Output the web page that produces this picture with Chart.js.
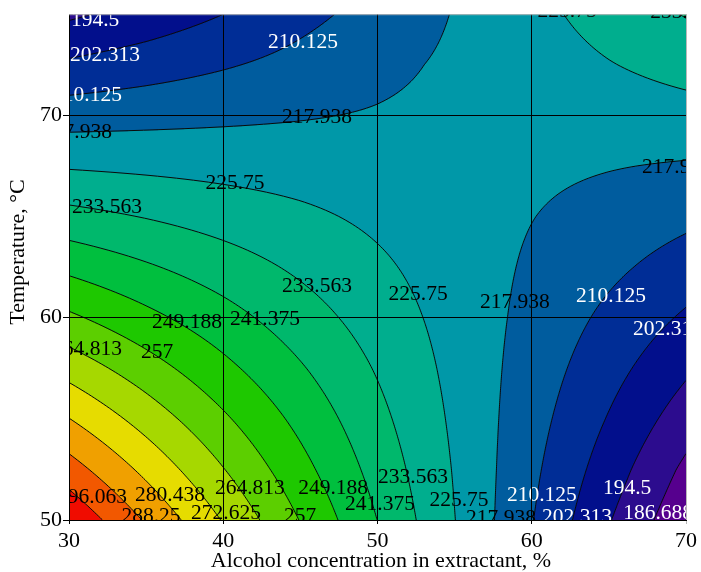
<!DOCTYPE html>
<html>
<head>
<meta charset="utf-8">
<script src="https://cdn.jsdelivr.net/npm/chart.js@4.4.1/dist/chart.umd.min.js"></script>
<style>
    html, body { margin: 0; padding: 0; background: #fff; }
</style>
</head>
<body>
<canvas id="contour-chart" width="701" height="572"></canvas>
<script>
// grid nodes
const alcohol = [30, 35, 40, 45, 50, 55, 60, 65, 70];
const temperature = [50, 52.5, 55, 57.5, 60, 62.5, 65, 67.5, 70, 72.5, 75];

// response at each node, one row per temperature
const response = [
    [302.7, 287.4, 272.1, 256.7, 241.3, 225.9, 210.5, 195.0, 180.8],
    [291.7, 278.4, 265.1, 251.8, 238.5, 225.2, 211.8, 198.4, 185.0],
    [280.6, 269.4, 258.2, 247.0, 235.7, 224.4, 213.1, 201.8, 190.4],
    [269.5, 260.4, 251.2, 242.1, 232.9, 223.6, 214.4, 205.1, 195.8],
    [258.4, 251.3, 244.3, 237.1, 230.0, 222.8, 215.7, 208.4, 201.2],
    [247.3, 242.3, 237.3, 232.2, 227.1, 222.0, 216.9, 211.8, 206.6],
    [236.1, 233.2, 230.2, 227.3, 224.2, 221.2, 218.1, 215.1, 211.9],
    [225.0, 224.1, 223.2, 222.3, 221.3, 220.4, 219.4, 218.3, 217.3],
    [214.4, 215.4, 216.4, 217.4, 218.5, 219.8, 220.7, 221.8, 223.0],
    [203.6, 206.4, 209.4, 212.5, 216.0, 219.2, 222.1, 225.4, 228.5],
    [193.2, 197.5, 202.3, 207.9, 212.9, 218.3, 223.6, 228.8, 234.0]
];

const levels = [186.688, 194.5, 202.313, 210.125, 217.938, 225.75, 233.563, 241.375,
    249.188, 257, 264.813, 272.625, 280.438, 288.25, 296.063];

const xTicks = [30, 40, 50, 60, 70];
const yTicks = [50, 60, 70];

// contour labels as they sit on the plot
const labelText = ['194.5', '202.313', '210.125', '217.938', '210.125', '217.938', '225.75',
    '233.563', '233.563', '225.75', '217.938', '210.125', '202.313', '217.938', '225.75',
    '233.563', '249.188', '241.375', '264.813', '257', '296.063', '280.438', '288.25',
    '272.625', '264.813', '257', '249.188', '241.375', '233.563', '225.75', '217.938',
    '210.125', '202.313', '194.5', '186.688'];
const labelX = [31.69, 32.33, 31.17, 30.52, 45.17, 46.08, 40.76, 32.46, 46.08, 52.63, 58.91,
    65.14, 68.83, 69.42, 62.29, 69.94, 37.65, 42.71, 31.17, 35.71, 31.49, 36.55, 35.32,
    40.18, 41.73, 44.98, 47.12, 50.16, 52.30, 55.28, 58.01, 60.66, 62.93, 66.18, 68.19];
const labelY = [74.72, 72.95, 70.98, 69.16, 73.59, 69.90, 66.66, 65.43, 61.55, 61.15, 60.76,
    61.06, 59.43, 67.44, 75.16, 75.11, 59.78, 59.93, 58.45, 58.30, 51.13, 51.23, 50.20,
    50.34, 51.57, 50.20, 51.57, 50.79, 52.11, 50.98, 50.10, 51.23, 50.15, 51.57, 50.34];

// band fill, lowest band first
const bandColors = ['#56008e', '#2c0c8e', '#020f8c', '#002d96', '#005c9e', '#0098a8',
    '#00ae8e', '#00b86c', '#00bf3e', '#1ec800', '#5ccf00', '#a6d800', '#e6dc00',
    '#f0a000', '#f25800', '#f00c00'];

const serif = '"Liberation Serif", "Times New Roman", serif';

function findCell(arr, v) {
    let i = 0;
    while (i < arr.length - 2 && v > arr[i + 1]) i++;
    return i;
}

// bilinear value between grid nodes
function valueAt(xv, yv) {
    const i = findCell(alcohol, xv);
    const j = findCell(temperature, yv);
    const tx = Math.min(1, Math.max(0, (xv - alcohol[i]) / (alcohol[i + 1] - alcohol[i])));
    const ty = Math.min(1, Math.max(0, (yv - temperature[j]) / (temperature[j + 1] - temperature[j])));
    const z00 = response[j][i], z10 = response[j][i + 1];
    const z01 = response[j + 1][i], z11 = response[j + 1][i + 1];
    return (z00 * (1 - tx) + z10 * tx) * (1 - ty) + (z01 * (1 - tx) + z11 * tx) * ty;
}

function bandOf(z) {
    let b = 0;
    while (b < levels.length && z >= levels[b]) b++;
    return b;
}

function hexToRgb(h) {
    return [parseInt(h.substr(1, 2), 16), parseInt(h.substr(3, 2), 16), parseInt(h.substr(5, 2), 16)];
}

const contourPlugin = {
    id: 'contourField',
    beforeDatasetsDraw(chart) {
        const { ctx, chartArea: a, scales: { x, y } } = chart;
        const w = Math.round(a.right - a.left);
        const h = Math.round(a.bottom - a.top);

        // filled bands
        const off = document.createElement('canvas');
        off.width = w;
        off.height = h;
        const octx = off.getContext('2d');
        const img = octx.createImageData(w, h);
        const rgb = bandColors.map(hexToRgb);
        const xs = [], ys = [];
        for (let i = 0; i < w; i++) xs.push(x.getValueForPixel(a.left + i + 0.5));
        for (let j = 0; j < h; j++) ys.push(y.getValueForPixel(a.top + j + 0.5));
        for (let j = 0; j < h; j++) {
            for (let i = 0; i < w; i++) {
                const c = rgb[bandOf(valueAt(xs[i], ys[j]))];
                const k = (j * w + i) * 4;
                img.data[k] = c[0];
                img.data[k + 1] = c[1];
                img.data[k + 2] = c[2];
                img.data[k + 3] = 255;
            }
        }
        octx.putImageData(img, 0, 0);
        ctx.save();
        ctx.drawImage(off, a.left, a.top);

        // contour lines, marching squares on a fine pixel lattice
        const s = 2;
        const nx = Math.ceil(w / s) + 1, ny = Math.ceil(h / s) + 1;
        const px = [], py = [], gv = [];
        for (let i = 0; i < nx; i++) px.push(Math.min(a.left + i * s, a.right));
        for (let j = 0; j < ny; j++) py.push(Math.min(a.top + j * s, a.bottom));
        for (let j = 0; j < ny; j++) {
            const row = [];
            const yv = y.getValueForPixel(py[j]);
            for (let i = 0; i < nx; i++) row.push(valueAt(x.getValueForPixel(px[i]), yv));
            gv.push(row);
        }
        ctx.beginPath();
        ctx.rect(a.left, a.top, w, h);
        ctx.clip();
        ctx.strokeStyle = '#0a0a0a';
        ctx.lineWidth = 1;
        ctx.beginPath();
        levels.forEach(L => {
            for (let j = 0; j < ny - 1; j++) {
                for (let i = 0; i < nx - 1; i++) {
                    const c = [
                        [px[i], py[j], gv[j][i]],
                        [px[i + 1], py[j], gv[j][i + 1]],
                        [px[i + 1], py[j + 1], gv[j + 1][i + 1]],
                        [px[i], py[j + 1], gv[j + 1][i]]
                    ];
                    const pts = [];
                    for (let e = 0; e < 4; e++) {
                        const p = c[e], q = c[(e + 1) % 4];
                        if ((p[2] - L) * (q[2] - L) < 0) {
                            const t = (L - p[2]) / (q[2] - p[2]);
                            pts.push([p[0] + (q[0] - p[0]) * t, p[1] + (q[1] - p[1]) * t]);
                        }
                    }
                    for (let k = 0; k + 1 < pts.length; k += 2) {
                        ctx.moveTo(pts[k][0], pts[k][1]);
                        ctx.lineTo(pts[k + 1][0], pts[k + 1][1]);
                    }
                }
            }
        });
        ctx.stroke();

        // contour labels
        ctx.font = '21.5px ' + serif;
        ctx.textAlign = 'center';
        ctx.textBaseline = 'middle';
        labelText.forEach((t, n) => {
            ctx.fillStyle = parseFloat(t) <= 210.2 ? '#ffffff' : '#000000';
            ctx.fillText(t, x.getPixelForValue(labelX[n]), y.getPixelForValue(labelY[n]));
        });
        ctx.restore();
    },
    afterDraw(chart) {
        const { ctx, chartArea: a } = chart;
        ctx.save();
        ctx.strokeStyle = '#b8b8b8';
        ctx.lineWidth = 1;
        ctx.beginPath();
        ctx.moveTo(a.left, a.top + 0.5);
        ctx.lineTo(a.right + 0.5, a.top + 0.5);
        ctx.lineTo(a.right + 0.5, a.bottom);
        ctx.stroke();

        ctx.fillStyle = '#000';
        ctx.font = '22px ' + serif;
        ctx.textAlign = 'center';
        ctx.textBaseline = 'middle';
        ctx.fillText('Alcohol concentration in extractant, %', 381, 561);
        ctx.translate(18, 252);
        ctx.rotate(-Math.PI / 2);
        ctx.fillText('Temperature, °C', 0, 0);
        ctx.restore();
    }
};

const nodes = [];
temperature.forEach((t, j) => alcohol.forEach((c, i) => nodes.push({ x: c, y: t, v: response[j][i] })));

const chart = new Chart(document.getElementById('contour-chart').getContext('2d'), {
    type: 'scatter',
    data: {
        datasets: [{
            label: 'Response',
            data: nodes,
            pointRadius: 0,
            pointHoverRadius: 0
        }]
    },
    options: {
        responsive: false,
        animation: false,
        devicePixelRatio: 1,
        layout: { padding: { top: 13, right: 15, left: 0, bottom: 0 } },
        plugins: {
            legend: { display: false },
            tooltip: { enabled: false }
        },
        scales: {
            x: {
                type: 'linear',
                min: 30,
                max: 70,
                afterBuildTicks: s => { s.ticks = xTicks.map(v => ({ value: v })); },
                afterFit: s => { s.height = 52; },
                grid: {
                    z: 1,
                    color: c => (c.tick && c.tick.value === 70 ? '#b8b8b8' : '#000'),
                    lineWidth: 1,
                    tickLength: 4
                },
                border: { display: true, color: '#000', width: 1, z: 1 },
                ticks: {
                    padding: 4,
                    color: '#000',
                    font: { family: serif, size: 22 }
                }
            },
            y: {
                type: 'linear',
                min: 50,
                max: 75,
                afterBuildTicks: s => { s.ticks = yTicks.map(v => ({ value: v })); },
                afterFit: s => { s.width = 69; },
                grid: {
                    z: 1,
                    color: '#000',
                    lineWidth: 1,
                    tickLength: 6
                },
                border: { display: true, color: '#000', width: 1, z: 1 },
                ticks: {
                    padding: 1,
                    color: '#000',
                    font: { family: serif, size: 22 }
                }
            }
        }
    },
    plugins: [contourPlugin]
});
</script>
</body>
</html>
